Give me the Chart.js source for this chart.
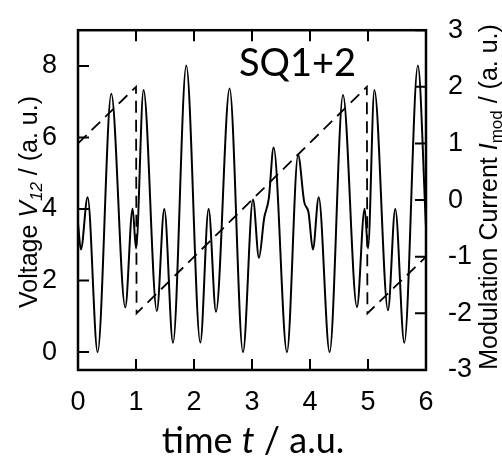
<!DOCTYPE html>
<html>
<head>
<meta charset="utf-8">
<script src="https://cdn.jsdelivr.net/npm/chart.js@4.4.1/dist/chart.umd.min.js"></script>
<style>
  html, body { margin: 0; padding: 0; background: #fff; }
</style>
</head>
<body>
<canvas id="chart" width="502" height="462"></canvas>
<script>
// voltage trace V12 (left axis), read at its turning points
const timeT = [0.00, 0.05, 0.166, 0.338, 0.574, 0.815, 0.942, 1.00, 1.13, 1.36,
               1.488, 1.638, 1.867, 2.109, 2.252, 2.379, 2.614, 2.845, 3.017, 3.12,
               3.21, 3.29, 3.373, 3.603, 3.795, 3.90, 3.975, 4.05, 4.15, 4.338,
               4.569, 4.81, 4.942, 5.00, 5.11, 5.345, 5.47, 5.626, 5.86, 6.00];
const voltage = [3.6, 2.87, 4.33, 0.0, 7.22, 1.25, 4.01, 2.9, 7.33, 1.15,
                 4.0, 0.26, 8.01, 0.27, 4.0, 1.13, 7.37, 0.0, 4.27, 2.64,
                 3.75, 4.3, 5.72, 0.0, 5.51, 4.2, 3.9, 2.87, 4.33, 0.0,
                 7.19, 1.26, 4.01, 2.9, 7.33, 1.17, 4.0, 0.26, 8.01, 3.5];

// modulation current sawtooth (right axis)
const modT = [0, 1.0, 1.01, 4.98, 4.99, 6];
const modI = [1.0, 2.0, -2.0, 2.0, -2.0, -1.0];

// tick labels
const xTicks = [0, 1, 2, 3, 4, 5, 6];
const vTicks = [0, 2, 4, 6, 8];
const iTicks = [-3, -2, -1, 0, 1, 2, 3];

const tickFont = { family: 'Liberation Sans', size: 27 };
const titleFace = 'Liberation Sans';

// rotated title made of pieces (italic, subscripts)
function drawRotated(ctx, x, y, parts) {
  ctx.save();
  ctx.translate(x, y);
  ctx.rotate(-Math.PI / 2);
  let total = 0;
  parts.forEach(p => { ctx.font = p.font; total += ctx.measureText(p.text).width; });
  let cx = -total / 2;
  ctx.textBaseline = 'alphabetic';
  ctx.textAlign = 'left';
  parts.forEach(p => {
    ctx.font = p.font;
    ctx.fillText(p.text, cx, p.dy || 0);
    cx += ctx.measureText(p.text).width;
  });
  ctx.restore();
}

// frame with inward ticks on all sides + titles
const framePlugin = {
  id: 'framePlugin',
  afterDatasetsDraw(chart) {
    const { ctx, chartArea: a, scales } = chart;
    const len = 11;
    ctx.save();
    ctx.strokeStyle = '#000';
    ctx.lineWidth = 2;
    ctx.beginPath();
    scales.x.ticks.forEach(t => {
      const px = scales.x.getPixelForValue(t.value);
      ctx.moveTo(px, a.bottom); ctx.lineTo(px, a.bottom - len);
      ctx.moveTo(px, a.top); ctx.lineTo(px, a.top + len);
    });
    scales.y.ticks.forEach(t => {
      const py = scales.y.getPixelForValue(t.value);
      ctx.moveTo(a.left, py); ctx.lineTo(a.left + len, py);
    });
    scales.y2.ticks.forEach(t => {
      const py = scales.y2.getPixelForValue(t.value);
      ctx.moveTo(a.right, py); ctx.lineTo(a.right - len, py);
    });
    ctx.stroke();
    ctx.lineWidth = 2.5;
    ctx.strokeRect(a.left, a.top, a.right - a.left, a.bottom - a.top);

    ctx.fillStyle = '#000';
    const f = 25, s = 17;
    drawRotated(ctx, 37, 202, [
      { text: 'Voltage ', font: `${f}px ${titleFace}` },
      { text: 'V', font: `italic ${f}px ${titleFace}` },
      { text: '12', font: `italic ${s}px ${titleFace}`, dy: 5 },
      { text: ' / (a. u.)', font: `${f}px ${titleFace}` }
    ]);
    drawRotated(ctx, 497, 197, [
      { text: 'Modulation Current ', font: `${f}px ${titleFace}` },
      { text: 'I', font: `italic ${f}px ${titleFace}` },
      { text: 'mod', font: `${s}px ${titleFace}`, dy: 5 },
      { text: ' / (a. u.)', font: `${f}px ${titleFace}` }
    ]);

    ctx.textAlign = 'left';
    ctx.textBaseline = 'alphabetic';
    ctx.font = '38px Lato';
    ctx.fillText('SQ1+2', 239, 76);

    // x title: "time t / a.u."
    const pieces = [
      { text: 'time ', font: '36px Lato' },
      { text: 't', font: 'italic 36px Lato' },
      { text: ' / a.u.', font: '36px Lato' }
    ];
    let w = 0;
    pieces.forEach(p => { ctx.font = p.font; w += ctx.measureText(p.text).width; });
    let x0 = 253 - w / 2;
    pieces.forEach(p => {
      ctx.font = p.font;
      ctx.fillText(p.text, x0, 453);
      x0 += ctx.measureText(p.text).width;
    });
    ctx.restore();
  }
};

new Chart(document.getElementById('chart'), {
  type: 'line',
  data: {
    datasets: [
      {
        label: 'V12',
        data: timeT.map((t, i) => ({ x: t, y: voltage[i] })),
        yAxisID: 'y',
        borderColor: '#000',
        borderWidth: 2,
        pointRadius: 0,
        cubicInterpolationMode: 'monotone',
        fill: false
      },
      {
        label: 'Imod',
        data: modT.map((t, i) => ({ x: t, y: modI[i] })),
        yAxisID: 'y2',
        borderColor: '#000',
        borderWidth: 1.8,
        borderDash: [12, 7],
        pointRadius: 0,
        tension: 0,
        fill: false
      }
    ]
  },
  options: {
    responsive: false,
    animation: false,
    devicePixelRatio: 1,
    layout: { padding: { top: 23, left: 0, right: 0, bottom: 0 } },
    plugins: { legend: { display: false }, tooltip: { enabled: false } },
    scales: {
      x: {
        type: 'linear',
        min: 0, max: 6,
        grid: { display: false },
        border: { display: false },
        afterBuildTicks: s => { s.ticks = xTicks.map(v => ({ value: v })); },
        afterFit: s => { s.height = 92; },
        ticks: { color: '#000', font: tickFont, padding: 8, maxRotation: 0 }
      },
      y: {
        position: 'left',
        min: -0.5, max: 9,
        grid: { display: false },
        border: { display: false },
        afterBuildTicks: s => { s.ticks = vTicks.map(v => ({ value: v })); },
        afterFit: s => { s.width = 78; },
        ticks: { color: '#000', font: tickFont, padding: 13 }
      },
      y2: {
        position: 'right',
        min: -3, max: 3,
        grid: { display: false },
        border: { display: false },
        afterBuildTicks: s => { s.ticks = iTicks.map(v => ({ value: v })); },
        afterFit: s => { s.width = 76; },
        ticks: { color: '#000', font: tickFont, padding: 14 }
      }
    }
  },
  plugins: [framePlugin]
});
</script>
</body>
</html>
